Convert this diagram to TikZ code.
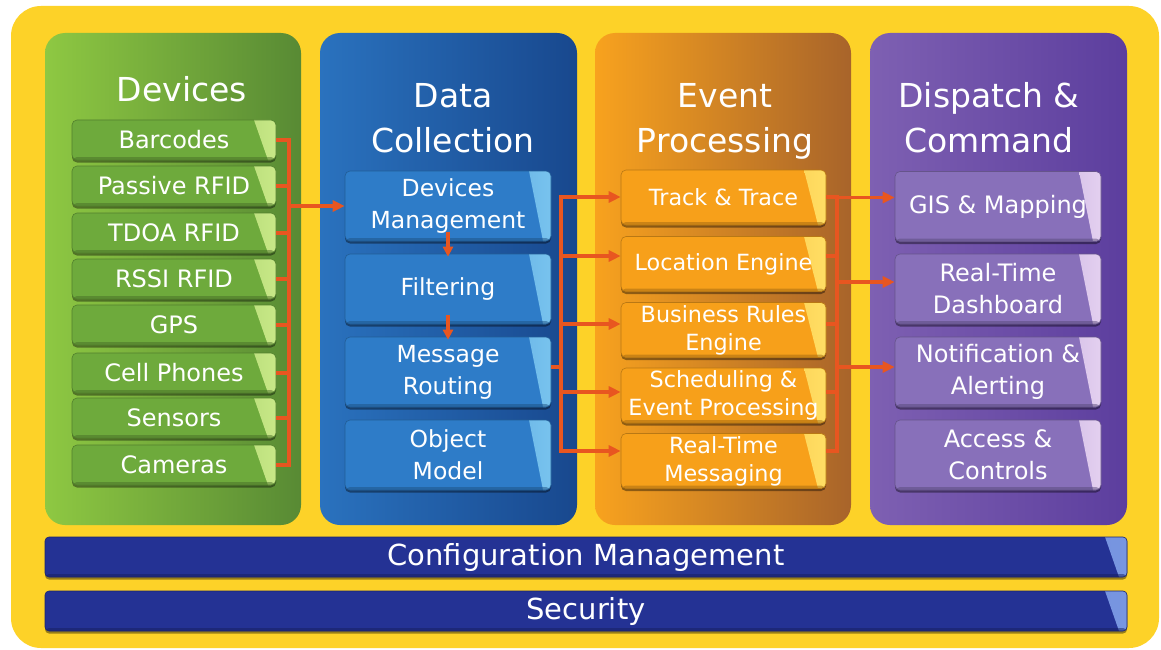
\documentclass[tikz,border=0pt]{standalone}
\usepackage{fontspec}
\setmainfont{DejaVu Sans}
\usetikzlibrary{arrows.meta,shadows}
\definecolor{ylw}{RGB}{253,210,40}
\definecolor{gL}{RGB}{142,200,66}
\definecolor{gR}{RGB}{88,138,52}
\definecolor{bL}{RGB}{42,114,190}
\definecolor{bR}{RGB}{24,72,142}
\definecolor{oL}{RGB}{248,162,30}
\definecolor{oR}{RGB}{168,100,42}
\definecolor{pL}{RGB}{126,96,178}
\definecolor{pR}{RGB}{92,62,158}
\definecolor{gBox}{RGB}{110,170,60}
\definecolor{gHi}{RGB}{200,232,135}
\definecolor{bBox}{RGB}{46,124,200}
\definecolor{bHi}{RGB}{120,195,238}
\definecolor{oBox}{RGB}{247,160,26}
\definecolor{oHi}{RGB}{255,222,100}
\definecolor{pBox}{RGB}{136,112,186}
\definecolor{pHi}{RGB}{228,208,240}
\definecolor{nBar}{RGB}{36,50,148}
\definecolor{nHi}{RGB}{120,150,225}
\definecolor{arrc}{RGB}{232,86,32}
\tikzset{
  ibox/.style 2 args={rounded corners=5pt, fill=#1, draw=#1!75!black, line width=0.6pt,
    text=white, align=center, inner sep=0pt,
    drop shadow={shadow xshift=0pt, shadow yshift=-2.5pt, opacity=0.4, fill=black},
    path picture={
      \shade[left color=#1, right color=#2, rounded corners=0pt]
        ([xshift=-22pt]path picture bounding box.north east) --
        (path picture bounding box.north east) --
        (path picture bounding box.south east) --
        ([xshift=-8pt]path picture bounding box.south east) -- cycle;
      \fill[#1!65!black, opacity=0.5] ([yshift=3pt]path picture bounding box.south west) rectangle (path picture bounding box.south east);
    }},
  gbox/.style={ibox={gBox}{gHi}, minimum width=204pt, minimum height=40pt, font=\fontsize{24}{30}\selectfont},
  bbox/.style={ibox={bBox}{bHi}, minimum width=206pt, minimum height=70pt, font=\fontsize{23.5}{32}\selectfont},
  obox/.style={ibox={oBox}{oHi}, minimum width=205pt, minimum height=55pt, font=\fontsize{22.3}{28}\selectfont},
  pbox/.style={ibox={pBox}{pHi}, minimum width=206pt, minimum height=70pt, font=\fontsize{24}{32}\selectfont},
  barbox/.style={ibox={nBar}{nHi}, rounded corners=4pt, minimum width=1082pt, minimum height=40pt, font=\fontsize{29}{34}\selectfont},
  head/.style={text=white, font=\fontsize{33}{44}\selectfont, align=center, inner sep=0pt},
  ln/.style={draw=arrc, line width=3.6pt},
  arr/.style={draw=arrc, line width=3.6pt, -{Triangle[length=12pt,width=11pt]}},
  sarr/.style={draw=arrc, line width=3.2pt, -{Triangle[length=10pt,width=10pt]}},
}
\begin{document}
\begin{tikzpicture}[x=1pt,y=-1pt]
\useasboundingbox (0,0) rectangle (1161,650);
\fill[white] (0,0) rectangle (1161,650);
% frame
\fill[ylw, rounded corners=30pt] (11,6) rectangle (1159,648);
% columns
\shade[rounded corners=20pt, left color=gL, right color=gR] (45,33) rectangle (301,525);
\shade[rounded corners=20pt, left color=bL, right color=bR] (320,33) rectangle (577,525);
\shade[rounded corners=20pt, left color=oL, right color=oR] (595,33) rectangle (851,525);
\shade[rounded corners=20pt, left color=pL, right color=pR] (870,33) rectangle (1127,525);
% headings
\node[head, anchor=base] (hDev) at (182,102) {Devices};
\node[head, anchor=base] (hDC) at (453,152) {Data\\Collection};
\node[head, anchor=base] (hEP) at (725,152) {Event\\Processing};
\node[head, anchor=base] (hDC2) at (989,152) {Dispatch \&\\Command};
% devices
\node[gbox] (g1) at (174,140) {Barcodes};
\node[gbox] (g2) at (174,186) {Passive RFID};
\node[gbox] (g3) at (174,233) {TDOA RFID};
\node[gbox] (g4) at (174,279) {RSSI RFID};
\node[gbox] (g5) at (174,325) {GPS};
\node[gbox] (g6) at (174,373) {Cell Phones};
\node[gbox] (g7) at (174,418) {Sensors};
\node[gbox] (g8) at (174,465) {Cameras};
% data collection
\node[bbox] (b1) at (448,206) {Devices\\Management};
\node[bbox] (b2) at (448,289) {Filtering};
\node[bbox] (b3) at (448,372) {Message\\Routing};
\node[bbox] (b4) at (448,455) {Object\\Model};
% event processing
\node[obox] (o1) at (723.5,197.5) {Track \& Trace};
\node[obox] (o2) at (723.5,264) {Location Engine};
\node[obox] (o3) at (723.5,330) {Business Rules\\Engine};
\node[obox] (o4) at (723.5,395.5) {Scheduling \&\\Event Processing};
\node[obox] (o5) at (723.5,461) {Real-Time\\Messaging};
% dispatch
\node[pbox] (p1) at (998,206.5) {GIS \& Mapping};
\node[pbox] (p2) at (998,289) {Real-Time\\Dashboard};
\node[pbox] (p3) at (998,372) {Notification \&\\Alerting};
\node[pbox] (p4) at (998,455) {Access \&\\Controls};
% bars
\node[barbox] (cfg) at (586,557) {Configuration Management};
\node[barbox] (sec) at (586,611) {Security};
% devices bus
\coordinate (gbT) at (289,140);
\draw[ln, line join=miter] (g1.east) -- (g1.east -| gbT) -- (g8.east -| gbT) -- (g8.east);
\foreach \i in {2,...,7} \draw[ln] (g\i.east) -- (g\i.east -| gbT);
\draw[arr] (b1.west -| gbT) -- (b1.west);
% internal
\draw[sarr] ([yshift=9pt]b1.south) -- ([yshift=-3pt]b2.north);
\draw[sarr] ([yshift=9pt]b2.south) -- ([yshift=-3pt]b3.north);
% middle bus
\coordinate (mbT) at (561,197);
\coordinate (mbB) at (561,451);
\coordinate (b3e) at ([yshift=5pt]b3.east);
\draw[ln] (b3e) -- (b3e -| mbT);
\draw[ln, line join=miter] ([xshift=-1.8pt]mbT) -- (mbT) -- (mbB) -- ([xshift=-1.8pt]mbB);
\foreach \i/\s in {1/0.5,2/8,3/6,4/3.5,5/10} {
  \coordinate (o\i a) at ([yshift=\s pt]o\i.west);
  \coordinate (o\i b) at ([yshift=\s pt]o\i.east);
  \draw[arr] (o\i a -| mbT) -- (o\i a);
}
% right bus
\coordinate (rbT) at (837,198);
\foreach \i in {1,...,5} \draw[ln] (o\i b) -- (o\i b -| rbT);
\draw[ln, line join=miter] ([xshift=1.8pt]o1b -| rbT) -- (o1b -| rbT) -- (o5b -| rbT) -- ([xshift=1.8pt]o5b -| rbT);
\foreach \i/\s in {1/9,2/7,3/5} {
  \coordinate (p\i a) at ([yshift=\s pt]p\i.west);
  \draw[arr] (p\i a -| rbT) -- (p\i a);
}
\end{tikzpicture}
\end{document}
